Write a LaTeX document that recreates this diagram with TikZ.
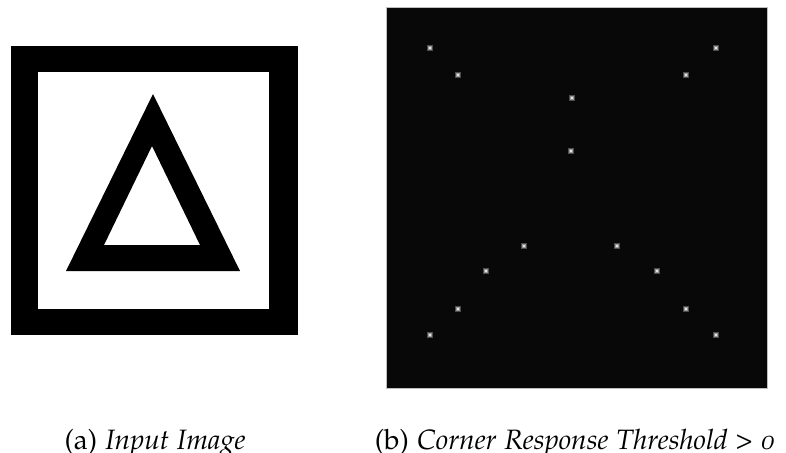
\documentclass[tikz,border=0pt]{standalone}
\usepackage[T1]{fontenc}
\usepackage[osf]{mathpazo}
\begin{document}
\begin{tikzpicture}[x=1pt,y=-1pt,
  captext/.style={anchor=base,font=\fontsize{28}{32}\selectfont,inner sep=0pt}]
\useasboundingbox[fill=white] (0,0) rectangle (786,452);
% (a) input image
\fill[black] (11,46) rectangle (298,335);
\fill[white] (38,72) rectangle (269,309);
\fill[black,even odd rule] (153,94) -- (240,271) -- (66,271) -- cycle
  (152,146) -- (200,245) -- (104,245) -- cycle;
% (b) corner response
\fill[black!97] (386,7) rectangle (767,388);
\draw[black!25,line width=0.4pt] (386,7) rectangle (767,388);
\foreach \x/\y in {430/48,716/48,458/75,686/75,572/98,571/151,524/246,617/246,486/271,657/271,458/309,686/309,430/335,716/335}{
  \fill[white!30!black] (\x-3,\y-3) rectangle (\x+3,\y+3);
  \fill[white!60!black] (\x-2.2,\y-2.2) rectangle (\x+2.2,\y+2.2);
  \fill[white!90!black] (\x-1.3,\y-1.3) rectangle (\x+1.3,\y+1.3);
}
\node[captext] (ca) at (155,449) {(a) \textit{Input Image}};
\node[captext] (cb) at (575,449) {(b) \textit{Corner Response Threshold} > \textit{0}};
\end{tikzpicture}
\end{document}
